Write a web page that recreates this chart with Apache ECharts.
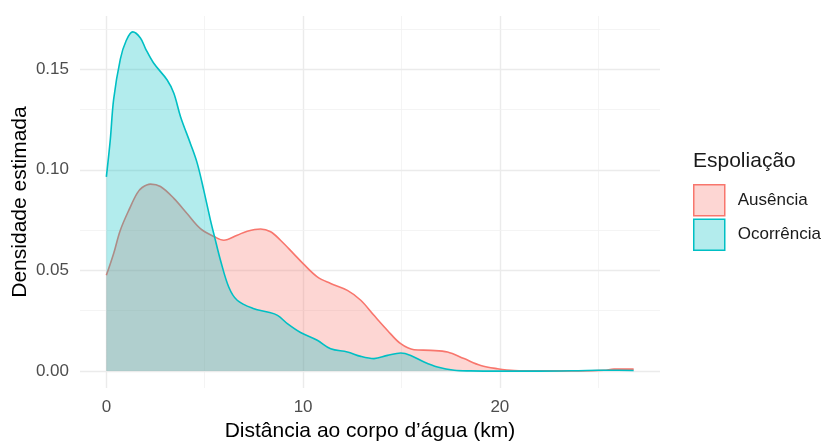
<!DOCTYPE html>
<html>
<head>
<meta charset="utf-8">
<script src="https://cdn.jsdelivr.net/npm/echarts@6/dist/echarts.min.js"></script>
<style>html,body{margin:0;padding:0;background:#fff}#c{width:825px;height:441px}</style>
</head>
<body>
<div id="c"></div>
<script>
// Data
const seriesNames = ['Ausência', 'Ocorrência'];
const ausenciaX = [0, 0.37, 0.71, 1.22, 1.56, 1.82, 2.24, 2.75, 3.43, 4.1, 4.78, 5.5, 5.97, 6.65, 7.16, 7.84, 8.35, 8.85, 9.5, 10, 10.72, 11.4, 12.25, 12.93, 13.6, 14.29, 14.96, 15.64, 16.49, 17.34, 18.18, 19.03, 19.88, 20.73, 22, 24, 25.3, 25.8, 26.8];
const ausenciaY = [0.0476, 0.0584, 0.07, 0.0816, 0.0883, 0.0912, 0.0929, 0.0917, 0.0858, 0.0783, 0.0708, 0.0667, 0.065, 0.0675, 0.0695, 0.0706, 0.0692, 0.065, 0.0585, 0.0534, 0.0468, 0.0435, 0.0401, 0.0352, 0.0277, 0.0202, 0.0136, 0.0106, 0.0103, 0.0095, 0.0062, 0.0028, 0.0012, 0.0003, 0.0001, 0.0001, 0.0004, 0.001, 0.001];
const ocorrenciaX = [0, 0.2, 0.37, 0.71, 1.0, 1.34, 1.73, 2.0, 2.41, 3.09, 3.43, 3.77, 4.27, 4.62, 4.95, 5.29, 5.5, 5.8, 6.22, 6.65, 7.5, 8.19, 8.7, 9.2, 9.87, 10.72, 11.4, 12.25, 12.93, 13.6, 14.29, 14.96, 15.47, 16.15, 16.83, 17.68, 18.5, 20, 22, 24, 25, 26, 26.8];
const ocorrenciaY = [0.0965, 0.115, 0.135, 0.155, 0.164, 0.1685, 0.1655, 0.16, 0.1529, 0.1446, 0.138, 0.1264, 0.1131, 0.1032, 0.0899, 0.075, 0.0667, 0.0551, 0.0418, 0.0352, 0.031, 0.0294, 0.0277, 0.0236, 0.0192, 0.0153, 0.0111, 0.0095, 0.0073, 0.0062, 0.0078, 0.009, 0.0078, 0.0045, 0.002, 0.0004, 0.0001, 0, 0, 0.0002, 0.0004, 0.0004, 0.0003];
const xTicks = [0, 10, 20];
const xMinorTicks = [5, 15, 25];
const yTicks = [0, 0.05, 0.10, 0.15];
const yMinorTicks = [0.025, 0.075, 0.125, 0.175];
const xTitle = 'Distância ao corpo d’água (km)';
const yTitle = 'Densidade estimada';
const legendTitle = 'Espoliação';

const FONT = 'Liberation Sans, Arial, sans-serif';
const lineColors = ['#F8766D', '#00BFC4'];
const fillColors = ['rgba(248,118,109,0.3)', 'rgba(0,191,196,0.3)'];
const keyFills = ['#FDD6D3', '#B3ECED'];

function pairs(xs, ys) { return xs.map((x, i) => [x, ys[i]]); }

const majorStyle = { color: '#EBEBEB', width: 1.4, type: 'solid' };
const minorStyle = { color: '#F1F1F1', width: 0.8, type: 'solid' };
const gridLines = []
  .concat(xTicks.map(v => ({ xAxis: v, lineStyle: majorStyle })))
  .concat(xMinorTicks.map(v => ({ xAxis: v, lineStyle: minorStyle })))
  .concat(yTicks.map(v => ({ yAxis: v, lineStyle: majorStyle })))
  .concat(yMinorTicks.map(v => ({ yAxis: v, lineStyle: minorStyle })));

const dataSets = [pairs(ausenciaX, ausenciaY), pairs(ocorrenciaX, ocorrenciaY)];

const chart = echarts.init(document.getElementById('c'), null, { renderer: 'canvas' });
chart.setOption({
  animation: false,
  backgroundColor: '#ffffff',
  textStyle: { fontFamily: FONT },
  grid: { left: 80, right: 165, top: 16, bottom: 53, containLabel: false, outerBoundsMode: 'none' },
  title: {
    text: legendTitle, left: 693, top: 151, padding: 0,
    textStyle: { fontFamily: FONT, fontSize: 21, fontWeight: 'normal', color: '#1A1A1A' }
  },
  legend: {
    orient: 'vertical', left: 693, top: 184, padding: 0,
    itemWidth: 31, itemHeight: 31, itemGap: 2, icon: 'rect',
    data: seriesNames.map((n, i) => ({
      name: n, icon: 'rect',
      itemStyle: { color: keyFills[i], borderColor: lineColors[i], borderWidth: 1.5, opacity: 1 }
    })),
    textStyle: { fontFamily: FONT, fontSize: 17, color: '#1A1A1A', padding: [0, 0, 0, 8] }
  },
  xAxis: {
    type: 'value', min: -1.34, max: 28.14,
    axisLine: { show: false }, axisTick: { show: false }, splitLine: { show: false },
    axisLabel: { customValues: xTicks, fontSize: 17, color: '#4D4D4D', margin: 11, fontFamily: FONT },
    name: xTitle, nameLocation: 'middle', nameGap: 33, nameMoveOverlap: false,
    nameTextStyle: { fontSize: 21, color: '#000000', fontFamily: FONT }
  },
  yAxis: {
    type: 'value', min: -0.0084, max: 0.1764,
    axisLine: { show: false }, axisTick: { show: false }, splitLine: { show: false },
    axisLabel: { customValues: yTicks, fontSize: 17, color: '#4D4D4D', margin: 11, fontFamily: FONT,
      formatter: v => v.toFixed(2) },
    name: yTitle, nameLocation: 'middle', nameGap: 49, nameMoveOverlap: false,
    nameTextStyle: { fontSize: 21, color: '#000000', fontFamily: FONT }
  },
  series: [
    {
      name: '__grid', type: 'line', data: [[0, 0]], symbol: 'none', silent: true, z: 0,
      lineStyle: { opacity: 0 },
      markLine: { silent: true, symbol: 'none', label: { show: false }, data: gridLines, z: 0, animation: false }
    }
  ].concat(seriesNames.map((n, i) => ({
    name: n, type: 'line', data: dataSets[i], z: 2 + i,
    smooth: 0.35, symbol: 'none', showSymbol: false,
    lineStyle: { color: lineColors[i], width: 1.6 },
    itemStyle: { color: lineColors[i] },
    areaStyle: { color: fillColors[i], opacity: 1, origin: 0 }
  })))
});
</script>
</body>
</html>
